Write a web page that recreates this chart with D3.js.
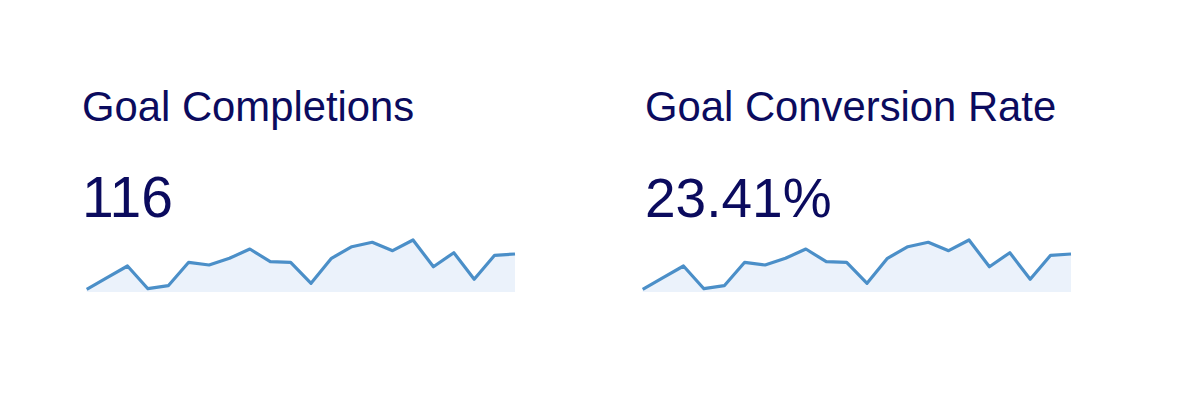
<!DOCTYPE html>
<html>
<head>
<meta charset="utf-8">
<script src="https://cdn.jsdelivr.net/npm/d3@7"></script>
<style>
  body { margin: 0; background: #fff; }
  svg { display: block; font-family: "Liberation Sans", Arial, sans-serif; }
</style>
</head>
<body>
<svg width="1180" height="414"></svg>
<script>
// metric titles and totals
var titles = ["Goal Completions", "Goal Conversion Rate"];
var totals = ["116", "23.41%"];

// daily values (same shape in both sparklines)
var completions = [2.7, 14.3, 26, 3.3, 6.3, 29.7, 27, 33.7, 43, 30.3, 29.7, 8.7, 33.7, 45.3, 49.7, 41.3, 52, 25.3, 39.3, 12.7, 36.7, 38];
var conversion = [2.7, 14.3, 26, 3.3, 6.3, 29.7, 27, 33.7, 43, 30.3, 29.7, 8.7, 33.7, 45.3, 49.7, 41.3, 52, 25.3, 39.3, 12.7, 36.7, 38];

var svg = d3.select("svg");

var panels = [
  { title: titles[0], total: totals[0], values: completions, tx: 82, sx: 86.7, sw: 428.3, fs: 57 },
  { title: titles[1], total: totals[1], values: conversion, tx: 645, sx: 642.7, sw: 428.3, fs: 55 }
];

var textColor = "#0b0b5e";

panels.forEach(function(p) {
  var g = svg.append("g");

  g.append("text")
    .attr("x", p.tx)
    .attr("y", 121)
    .style("font-size", "41.8px")
    .style("fill", textColor)
    .text(p.title);

  g.append("text")
    .attr("x", p.tx)
    .attr("y", 217)
    .style("font-size", p.fs + "px")
    .style("fill", textColor)
    .text(p.total);

  var x = d3.scaleLinear()
      .domain([0, p.values.length - 1])
      .range([p.sx, p.sx + p.sw]);

  var y = d3.scaleLinear()
      .domain([0, d3.max(p.values)])
      .range([292, 240]);

  var area = d3.area()
      .x((d, i) => x(i))
      .y0(y(0))
      .y1((d) => y(d));

  var line = d3.line()
      .x((d, i) => x(i))
      .y((d) => y(d));

  g.append("path")
    .datum(p.values)
    .attr("d", area)
    .style("fill", "#ebf2fb");

  g.append("path")
    .datum(p.values)
    .attr("d", line)
    .style("fill", "none")
    .style("stroke", "#4b8fc8")
    .style("stroke-width", 3.2)
    .style("stroke-linejoin", "round");
});
</script>
</body>
</html>
